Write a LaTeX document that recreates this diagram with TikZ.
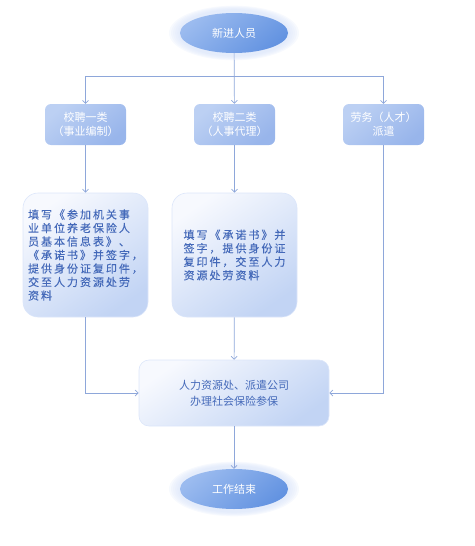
\documentclass[tikz,border=0pt]{standalone}
\usepackage{fontspec}
\setmainfont{Noto Sans CJK SC}
\newfontfamily\stepfont[LetterSpace=18,FakeBold=0.2]{Noto Sans CJK SC}
\usetikzlibrary{arrows.meta,shapes.geometric}
\definecolor{flowline}{HTML}{8EA7DA}
\definecolor{ovaltop}{HTML}{9BBBEF}
\definecolor{ovalbot}{HTML}{6393E1}
\definecolor{kindtop}{HTML}{BCD0F3}
\definecolor{kindbot}{HTML}{98B5EB}
\definecolor{steptop}{HTML}{F7F9FE}
\definecolor{stepbot}{HTML}{C2D4F4}
\definecolor{steptext}{HTML}{4469B9}
\definecolor{glow}{HTML}{DCE6FA}

\tikzset{
  endpoint/.style={ellipse, minimum width=108pt, minimum height=40pt, inner sep=0pt,
    top color=ovaltop, bottom color=ovalbot, shading angle=40, text=white,
    font=\fontsize{11}{13}\selectfont},
  halo/.style={ellipse, minimum width=#1, minimum height=#1*0.42, inner sep=0pt,
    fill=glow, opacity=0.22},
  kindbox/.style={rectangle, rounded corners=6pt, minimum width=81pt, minimum height=41pt,
    inner sep=0pt, top color=kindtop, bottom color=kindbot, shading angle=40,
    text=white, align=center, font=\fontsize{11}{14}\selectfont},
  stepbox/.style={rectangle, rounded corners=15pt, minimum width=125pt, minimum height=124pt,
    inner sep=0pt, top color=steptop, bottom color=stepbot, shading angle=35,
    draw=glow, line width=0.6pt, text=steptext, align=left,
    font=\fontsize{11}{13.5}\stepfont},
  flow/.style={draw=flowline, line width=0.7pt, -{Straight Barb[length=3pt,width=6pt]}},
}

\begin{document}
\begin{tikzpicture}[x=1pt,y=-1pt]
\useasboundingbox (0,0) rectangle (474,546);
\foreach \w in {130,126,122,118,114,111}{
  \node[halo=\w pt] at (234,33) {};
  \node[halo=\w pt] at (234,489) {};
}
\node[endpoint] (start) at (234,33) {新进人员};
\node[kindbox] (kind1) at (85.5,124.5) {校聘一类\\（事业编制）};
\node[kindbox] (kind2) at (234.5,124.5) {校聘二类\\（人事代理）};
\node[kindbox] (kind3) at (383.5,124.5) {劳务（人才）\\派遣};
\node[stepbox] (formA) at (85.5,255) {填写《参加机关事\\业单位养老保险人\\员基本信息表》、\\《承诺书》并签字，\\提供身份证复印件，\\交至人力资源处劳\\资料};
\node[stepbox] (formB) at (234.5,255) {填写《承诺书》并\\签字，提供身份证\\复印件，交至人力\\资源处劳资料};
\node[stepbox, minimum width=190pt, minimum height=66pt, rounded corners=10pt,
  align=center, font=\fontsize{11}{16}\selectfont] (office) at (234,393)
  {人力资源处、派遣公司\\办理社会保险参保};
\node[endpoint] (finish) at (234,489) {工作结束};
\coordinate (split) at (234,76);

\draw[flow] (start) -- (kind2);
\draw[flow] (split) -| (kind1);
\draw[flow] (split) -| (kind3);
\draw[flow] (kind1) -- (formA);
\draw[flow] (kind2) -- (formB);
\draw[flow] (formA) |- (office);
\draw[flow] (formB) -- (office);
\draw[flow] (kind3) |- (office);
\draw[flow] (office) -- (finish);
\end{tikzpicture}
\end{document}
